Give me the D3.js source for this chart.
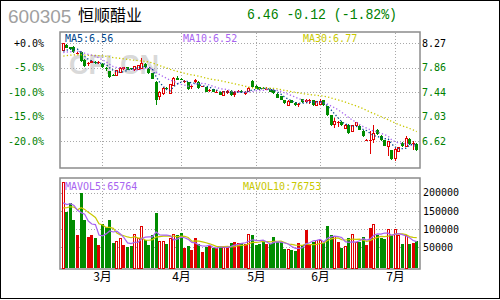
<!DOCTYPE html>
<html>
<head>
<meta charset="utf-8">
<script src="https://cdn.jsdelivr.net/npm/d3@7"></script>
<style>
  body { margin: 0; background: #fff; }
  svg { display: block; }
</style>
</head>
<body>
<svg id="chart" width="500" height="300"></svg>
<script>
// Data
//
var stockCode = '600305'
var stockName = '恒顺醋业'
var basePrice = 8.27
// daily candles, one per trading day (mid Feb .. early Jul)
var opens = [8.14,8.23,8.20,8.20,8.09,8.12,7.99,7.91,7.94,7.95,7.93,7.92,7.85,7.79,7.73,7.72,7.78,7.83,7.86,7.84,
  7.82,7.83,7.84,7.92,7.83,7.76,7.62,7.37,7.41,7.51,7.42,7.56,7.68,7.67,7.62,7.61,7.52,7.62,7.62,7.53,
  7.52,7.47,7.49,7.44,7.44,7.38,7.42,7.46,7.40,7.45,7.46,7.41,7.45,7.63,7.54,7.52,7.51,7.49,7.50,7.48,
  7.41,7.37,7.30,7.22,7.30,7.26,7.22,7.32,7.28,7.30,7.30,7.22,7.23,7.30,7.20,7.05,6.89,6.93,6.94,6.83,
  6.89,6.78,6.87,6.87,6.79,6.63,6.63,6.64,6.81,6.70,6.63,6.53,6.46,6.32,6.44,6.59,6.53,6.65,6.56,6.57]
var highs = [8.27,8.25,8.21,8.22,8.12,8.13,8.00,7.95,7.99,7.97,7.96,7.93,7.86,7.80,7.74,7.82,7.86,7.87,7.87,7.85,
  7.89,7.90,8.01,7.93,7.84,7.77,7.63,7.46,7.52,7.52,7.58,7.69,7.72,7.68,7.64,7.62,7.56,7.67,7.63,7.55,
  7.53,7.50,7.50,7.47,7.45,7.46,7.48,7.47,7.46,7.48,7.47,7.46,7.53,7.64,7.56,7.53,7.52,7.52,7.51,7.49,
  7.42,7.38,7.31,7.31,7.31,7.27,7.25,7.33,7.33,7.33,7.31,7.29,7.33,7.31,7.21,7.06,7.00,6.96,6.95,6.90,
  6.90,6.89,6.93,6.88,6.80,6.65,6.79,6.88,6.82,6.71,6.64,6.62,6.47,6.49,6.51,6.60,6.70,6.66,6.62,6.58]
var lows = [8.13,8.18,8.15,8.10,8.08,7.95,7.87,7.89,7.93,7.92,7.92,7.85,7.80,7.68,7.71,7.71,7.77,7.82,7.81,7.82,
  7.80,7.82,7.83,7.85,7.75,7.66,7.23,7.31,7.40,7.48,7.41,7.55,7.64,7.64,7.60,7.48,7.50,7.60,7.50,7.52,
  7.44,7.45,7.44,7.43,7.39,7.37,7.41,7.38,7.36,7.44,7.43,7.40,7.44,7.51,7.49,7.48,7.49,7.47,7.44,7.41,
  7.34,7.30,7.24,7.21,7.25,7.21,7.19,7.26,7.26,7.24,7.21,7.21,7.22,7.21,7.04,6.87,6.84,6.86,6.87,6.82,
  6.74,6.76,6.86,6.80,6.69,6.62,6.40,6.59,6.72,6.62,6.53,6.37,6.30,6.28,6.43,6.52,6.52,6.55,6.47,6.45]
var closes = [8.26,8.19,8.17,8.11,8.10,7.96,7.88,7.93,7.96,7.93,7.95,7.86,7.83,7.69,7.72,7.81,7.84,7.86,7.82,7.83,
  7.87,7.89,7.92,7.86,7.76,7.67,7.30,7.44,7.51,7.50,7.57,7.67,7.65,7.65,7.63,7.49,7.54,7.65,7.51,7.54,
  7.45,7.48,7.45,7.45,7.40,7.45,7.46,7.39,7.44,7.46,7.44,7.45,7.51,7.52,7.50,7.49,7.50,7.50,7.45,7.42,
  7.35,7.31,7.25,7.29,7.26,7.22,7.24,7.27,7.31,7.31,7.22,7.28,7.28,7.22,7.05,6.88,6.94,6.94,6.88,6.88,
  6.75,6.88,6.92,6.81,6.70,6.64,6.64,6.74,6.73,6.63,6.54,6.61,6.31,6.48,6.50,6.53,6.65,6.56,6.58,6.46]
var volumes = [229000,147000,173000,125000,84000,198000,125000,79000,85000,75000,
  56000,113000,106000,125000,61000,67000,75000,56000,52000,53000,
  84000,75000,108000,70000,56000,84000,145000,67000,65000,58000,
  75000,84000,84000,90000,49000,53000,43000,76000,59000,38000,
  52000,54000,48000,49000,52000,49000,52000,62000,66000,63000,
  62000,60000,84000,85000,56000,58000,66000,58000,58000,79000,
  64000,64000,45000,45000,43000,40000,62000,56000,97000,59000,
  66000,68000,70000,62000,108000,85000,79000,65000,47000,52000,
  75000,86000,63000,65000,79000,56000,103000,113000,84000,75000,
  72310,100400,84000,99000,83000,59000,82000,58000,62000,67820]
// sessions before the window, only feed the moving averages
var prevCloses = [7.92,7.95,7.98,8.02,7.99,8.03,8.05,8.01,7.97,7.99,8.02,8.04,8.00,8.03,
  8.05,8.07,8.04,8.08,8.10,8.06,8.09,8.12,8.08,8.05,8.07,8.10,8.11,8.08,8.11]
var prevVolumes = [140000,150000,135000,160000,140000,170000,160000,150000,151000]
// axes
var pctTicks = [0, -5, -10, -15, -20]
var volTicks = [50000, 100000, 150000, 200000]
var monthStarts = [11, 33, 54, 72, 93]
var monthLabels = ['3月', '4月', '5月', '6月', '7月']

// Configuration
//
var colorUp = '#e00000'
var colorDown = '#008c00'
var colorText = '#008000'
var colorFrame = '#8c8c8c'
var colorGrid = '#a8a8a8'
var colorMA5 = '#00468c'
var colorMA10 = '#a864f0'
var colorMA30 = '#c8c800'
var mono = 'DejaVu Sans Mono, monospace'
var cjk = 'Noto Sans CJK SC, sans-serif'

var main = { left: 60, right: 420, top: 32, bottom: 168 }
var vol = { left: 60, right: 420, top: 178, bottom: 269 }

var svg = d3.select('#chart')
var n = closes.length

// Scales
var x = d3.scaleBand().domain(d3.range(n)).range([61.5, 418.5])
var y = d3.scaleLinear().domain([basePrice, basePrice * 0.8]).range([43, 141])
var yPct = d3.scaleLinear().domain([0, -20]).range([43, 141])
var yVol = d3.scaleLinear().domain([0, 200000]).range([265.6, 192.7])
function cx(i) { return Math.floor(x(i) + x.bandwidth() / 2) + 0.5 }

// moving average with the earlier sessions in front
function movingAvg(values, prev, len) {
  var all = prev.concat(values)
  var off = prev.length
  return values.map(function(d, i) {
    return d3.mean(all.slice(off + i - len + 1, off + i + 1))
  })
}
var ma5 = movingAvg(closes, prevCloses, 5)
var ma10 = movingAvg(closes, prevCloses, 10)
var ma30 = movingAvg(closes, prevCloses, 30)
var mavol5 = movingAvg(volumes, prevVolumes, 5)
var mavol10 = movingAvg(volumes, prevVolumes, 10)

// outer frame
svg.append('rect').attr('x', 0.5).attr('y', 0.5).attr('width', 499).attr('height', 298)
  .attr('fill', 'none').attr('stroke', '#000')

// Header
var last = closes[n - 1], prev = closes[n - 2]
var chg = last - prev
svg.append('text').attr('x', 8).attr('y', 23).text(stockCode)
  .style('font-family', 'Liberation Sans, Arial').style('font-size', '19px').attr('fill', '#a0a0a0')
svg.append('text').attr('x', 78).attr('y', 21).text(stockName)
  .style('font-family', cjk).style('font-size', '16px').attr('fill', '#000')
svg.append('text').attr('x', 247).attr('y', 19)
  .text(last.toFixed(2) + ' ' + chg.toFixed(2) + ' (' + (chg / prev * 100).toFixed(2) + '%)')
  .attr('textLength', 150).attr('lengthAdjust', 'spacingAndGlyphs')
  .style('font-family', 'Liberation Mono, monospace').style('font-size', '15px').attr('fill', colorText)

// panels
function panel(p) {
  svg.append('rect').attr('x', p.left).attr('y', p.top)
    .attr('width', p.right - p.left).attr('height', p.bottom - p.top)
    .attr('fill', '#fff').attr('stroke', colorFrame).attr('stroke-width', 1.5)
}
panel(main)
panel(vol)

// watermark
svg.append('text').attr('x', 69).attr('y', 74).text('CFI.CN')
  .style('font-family', 'Liberation Sans, Arial').style('font-weight', 'bold').style('font-size', '27px')
  .attr('fill', '#d9d9d9')

// grid
var grid = svg.append('g').attr('stroke', colorGrid).attr('stroke-dasharray', '1,2')
  .attr('shape-rendering', 'crispEdges')
grid.selectAll('.hp').data(pctTicks).enter().append('line')
  .attr('x1', main.left + 1).attr('x2', main.right - 1)
  .attr('y1', function(d) { return Math.round(yPct(d)) + 0.5 })
  .attr('y2', function(d) { return Math.round(yPct(d)) + 0.5 })
grid.selectAll('.hv').data(volTicks).enter().append('line')
  .attr('x1', vol.left + 1).attr('x2', vol.right - 1)
  .attr('y1', function(d) { return Math.round(yVol(d)) + 0.5 })
  .attr('y2', function(d) { return Math.round(yVol(d)) + 0.5 })
monthStarts.forEach(function(m) {
  grid.append('line').attr('x1', cx(m)).attr('x2', cx(m)).attr('y1', main.top + 1).attr('y2', main.bottom - 1)
  grid.append('line').attr('x1', cx(m)).attr('x2', cx(m)).attr('y1', vol.top + 1).attr('y2', vol.bottom - 1)
})

// Axes
function styleAxis(g, color0) {
  g.select('.domain').remove()
  g.selectAll('.tick line').remove()
  g.selectAll('text').style('font-family', mono).style('font-size', '10px')
    .attr('fill', function(d, i) { return i === 0 ? '#000' : color0 })
}
svg.append('g').attr('transform', 'translate(44,0)')
  .call(d3.axisLeft(yPct).tickValues(pctTicks).tickSize(0).tickPadding(0)
    .tickFormat(function(d) { return (d >= 0 ? '+' : '') + d.toFixed(1) + '%' }))
  .call(styleAxis, colorText)
svg.append('g').attr('transform', 'translate(421,0)')
  .call(d3.axisRight(y).tickValues(pctTicks.map(function(p) { return basePrice * (1 + p / 100) }))
    .tickSize(0).tickPadding(1).tickFormat(d3.format('.2f')))
  .call(styleAxis, colorText)
svg.append('g').attr('transform', 'translate(422,0)')
  .call(d3.axisRight(yVol).tickValues(volTicks).tickSize(0).tickPadding(1).tickFormat(d3.format('d')))
  .call(function(g) {
    g.select('.domain').remove()
    g.selectAll('text').style('font-family', mono).style('font-size', '10px').attr('fill', '#000')
  })
svg.append('g').selectAll('text').data(monthStarts).enter().append('text')
  .attr('x', function(d) { return cx(d) }).attr('y', 281).attr('text-anchor', 'middle')
  .text(function(d, i) { return monthLabels[i] })
  .style('font-family', cjk).style('font-size', '12px').attr('fill', '#000')

// Candles
var hollow = function(i) { return closes[i] > opens[i] && y(opens[i]) - y(closes[i]) >= 2.5 }
var isUp = function(i) { return closes[i] >= opens[i] }
var candles = svg.append('g').attr('shape-rendering', 'crispEdges')
  .selectAll('g').data(d3.range(n)).enter().append('g')
candles.append('line')
  .attr('x1', cx).attr('x2', cx)
  .attr('y1', function(i) { return y(highs[i]) }).attr('y2', function(i) { return y(lows[i]) })
  .attr('stroke', function(i) { return isUp(i) ? colorUp : colorDown })
candles.append('rect')
  .attr('x', function(i) { return cx(i) - 1.5 + (hollow(i) ? 0.5 : 0) })
  .attr('width', function(i) { return hollow(i) ? 2 : 3 })
  .attr('y', function(i) { return Math.min(y(opens[i]), y(closes[i])) })
  .attr('height', function(i) { return Math.max(1, Math.abs(y(opens[i]) - y(closes[i]))) })
  .attr('fill', function(i) { return hollow(i) ? '#fff' : (isUp(i) ? colorUp : colorDown) })
  .attr('stroke', function(i) { return hollow(i) ? colorUp : 'none' })

// price moving averages
var maLine = d3.line().x(function(d, i) { return x(i) + x.bandwidth() / 2 }).y(function(d) { return y(d) })
;[[ma30, colorMA30], [ma10, colorMA10], [ma5, colorMA5]].forEach(function(m) {
  svg.append('path').datum(m[0]).attr('d', maLine).attr('fill', 'none')
    .attr('stroke', m[1]).attr('stroke-width', 1.3).attr('stroke-dasharray', '1.3,2.2')
})

// volume bars
var bars = svg.append('g').attr('shape-rendering', 'crispEdges')
bars.selectAll('rect').data(d3.range(n)).enter().append('rect')
  .attr('x', function(i) { return cx(i) - 1.5 + (hollow(i) ? 0.5 : 0) })
  .attr('width', function(i) { return hollow(i) ? 2 : 3 })
  .attr('y', function(i) { return yVol(volumes[i]) })
  .attr('height', function(i) { return vol.bottom - 1 - yVol(volumes[i]) })
  .attr('fill', function(i) { return hollow(i) ? '#fff' : (isUp(i) ? colorUp : colorDown) })
  .attr('stroke', function(i) { return hollow(i) ? colorUp : 'none' })

var volLine = d3.line().x(function(d, i) { return x(i) + x.bandwidth() / 2 }).y(function(d) { return yVol(d) })
svg.append('path').datum(mavol10).attr('d', volLine).attr('fill', 'none').attr('stroke', colorMA30).attr('stroke-width', 1.2)
svg.append('path').datum(mavol5).attr('d', volLine).attr('fill', 'none').attr('stroke', colorMA10).attr('stroke-width', 1.2)

// legends
function legend(tx, ty, label, color) {
  svg.append('text').attr('x', tx).attr('y', ty).text(label)
    .style('font-family', mono).style('font-size', '10px').attr('fill', color)
}
legend(65, 42, 'MA5:' + ma5[n - 1].toFixed(2), colorMA5)
legend(183, 42, 'MA10:' + ma10[n - 1].toFixed(2), colorMA10)
legend(303, 42, 'MA30:' + ma30[n - 1].toFixed(2), colorMA30)
legend(65, 190, 'MAVOL5:' + Math.round(mavol5[n - 1]), colorMA10)
legend(243, 190, 'MAVOL10:' + Math.round(mavol10[n - 1]), colorMA30)
</script>
</body>
</html>
